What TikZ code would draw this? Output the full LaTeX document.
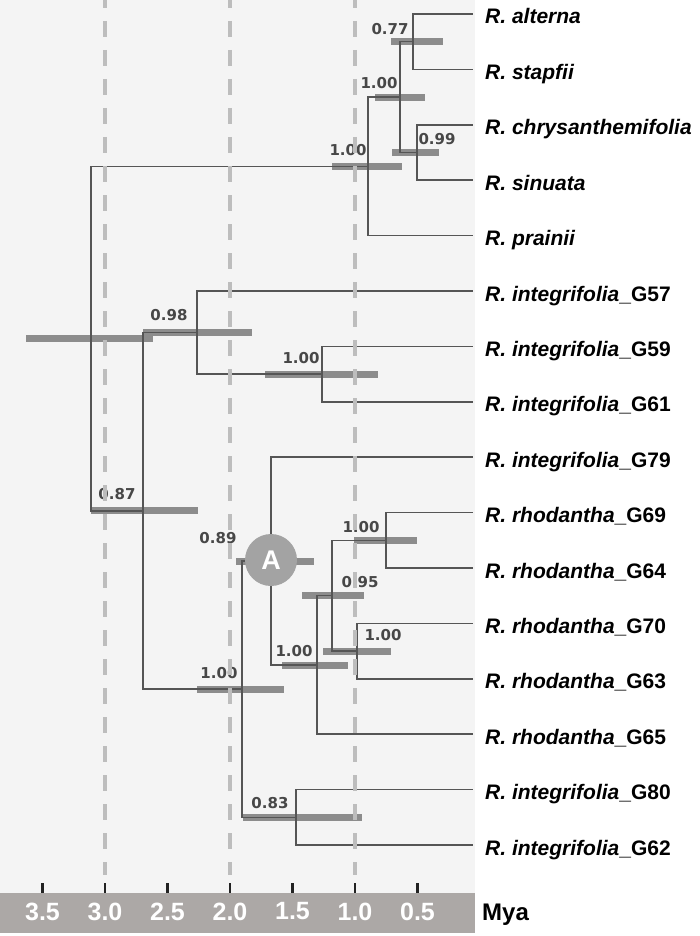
\documentclass[tikz,border=0pt]{standalone}
\usepackage{fontspec}
\setmainfont{Liberation Sans}
\newfontfamily\bsfont{DejaVu Sans}
\definecolor{panelcol}{HTML}{F4F4F4}
\definecolor{axiscol}{HTML}{ACA8A6}
\definecolor{treecol}{HTML}{555555}
\definecolor{barcol}{HTML}{8C8C8C}
\definecolor{bscol}{HTML}{474747}
\definecolor{gridcol}{HTML}{BDBDBD}
\definecolor{circcol}{HTML}{A3A3A3}
\definecolor{tickcol}{HTML}{222222}
\newcommand\taxon[2]{\textit{#1}#2}
\begin{document}
\begin{tikzpicture}[x=1pt,y=-1pt,
  treeline/.style={draw=treecol,line width=1.5pt},
  hpd/.style={rectangle,fill=barcol,draw=none,minimum height=7pt,inner sep=0pt,outer sep=0pt},
  bs/.style={font=\bsfont\bfseries\fontsize{15}{17}\selectfont,text=bscol,inner sep=0pt},
  tiplab/.style={anchor=base west,inner sep=0pt,font=\bfseries\fontsize{21}{24}\selectfont},
  gridline/.style={draw=gridcol,line width=3.5pt,dash pattern=on 16pt off 13pt,dash phase=8pt},
  tickmark/.style={draw=tickcol,line width=2.5pt},
  ticklab/.style={text=white,inner sep=0pt,font=\bfseries\fontsize{25}{28}\selectfont}]
\useasboundingbox (0,0) rectangle (700,936);
\fill[panelcol] (0,0) rectangle (475,893);
\fill[axiscol] (0,893) rectangle (475,933);

% tips
\coordinate (t0) at (473,14);
\coordinate (t1) at (473,69.4);
\coordinate (t2) at (473,124.8);
\coordinate (t3) at (473,180.2);
\coordinate (t4) at (473,235.6);
\coordinate (t5) at (473,291);
\coordinate (t6) at (473,346.4);
\coordinate (t7) at (473,401.8);
\coordinate (t8) at (473,457.2);
\coordinate (t9) at (473,512.6);
\coordinate (t10) at (473,568);
\coordinate (t11) at (473,623.4);
\coordinate (t12) at (473,678.8);
\coordinate (t13) at (473,734.2);
\coordinate (t14) at (473,789.6);
\coordinate (t15) at (473,845);

% internal nodes
\coordinate (n1) at (413,41.7);
\coordinate (n2) at (417,152.5);
\coordinate (n3) at (400,97.1);
\coordinate (n4) at (368,166.4);
\coordinate (n5) at (322,374.1);
\coordinate (n6) at (197,332.6);
\coordinate (n7) at (386,540.3);
\coordinate (n8) at (357,651.1);
\coordinate (n9) at (332,595.7);
\coordinate (n10) at (317,665);
\coordinate (n11) at (271,561);
\coordinate (n12) at (296,817.3);
\coordinate (n13) at (242,689);
\coordinate (n14) at (143,510.8);
\coordinate (root) at (91,338.6);

% HPD bars
\node[hpd,minimum width=52pt] (b1) at (417,41.7) {};
\node[hpd,minimum width=47pt] (b2) at (415.5,152.5) {};
\node[hpd,minimum width=50pt] (b3) at (400,97.1) {};
\node[hpd,minimum width=70pt] (b4) at (367,166.4) {};
\node[hpd,minimum width=113pt] (b5) at (321.5,374.1) {};
\node[hpd,minimum width=109pt] (b6) at (197.5,332.6) {};
\node[hpd,minimum width=63pt] (b7) at (385.5,540.3) {};
\node[hpd,minimum width=68pt] (b8) at (357,651.1) {};
\node[hpd,minimum width=62pt] (b9) at (333,595.7) {};
\node[hpd,minimum width=66pt] (b10) at (315,665) {};
\node[hpd,minimum width=78pt] (b11) at (275,561) {};
\node[hpd,minimum width=119pt] (b12) at (302.5,817.3) {};
\node[hpd,minimum width=87pt] (b13) at (240.5,689) {};
\node[hpd,minimum width=107pt] (b14) at (144.5,510.8) {};
\node[hpd,minimum width=127pt] (broot) at (89.5,338.6) {};

% tree
\draw[treeline] (n1) |- (t0);
\draw[treeline] (n1) |- (t1);
\draw[treeline] (n2) |- (t2);
\draw[treeline] (n2) |- (t3);
\draw[treeline] (n3) |- (n1);
\draw[treeline] (n3) |- (n2);
\draw[treeline] (n4) |- (n3);
\draw[treeline] (n4) |- (t4);
\draw[treeline] (root) |- (n4);
\draw[treeline] (root) |- (n14);
\draw[treeline] (n14) |- (n6);
\draw[treeline] (n14) |- (n13);
\draw[treeline] (n6) |- (t5);
\draw[treeline] (n6) |- (n5);
\draw[treeline] (n5) |- (t6);
\draw[treeline] (n5) |- (t7);
\draw[treeline] (n13) |- (n11);
\draw[treeline] (n13) |- (n12);
\draw[treeline] (n11) |- (t8);
\draw[treeline] (n11) |- (n10);
\draw[treeline] (n10) |- (n9);
\draw[treeline] (n10) |- (t13);
\draw[treeline] (n9) |- (n7);
\draw[treeline] (n9) |- (n8);
\draw[treeline] (n7) |- (t9);
\draw[treeline] (n7) |- (t10);
\draw[treeline] (n8) |- (t11);
\draw[treeline] (n8) |- (t12);
\draw[treeline] (n12) |- (t14);
\draw[treeline] (n12) |- (t15);

% support values
\node[bs] (s1) at (390,29) {0.77};
\node[bs] (s2) at (437,139) {0.99};
\node[bs] (s3) at (379,83) {1.00};
\node[bs] (s4) at (348,150) {1.00};
\node[bs] (s5) at (169,315) {0.98};
\node[bs] (s6) at (301,358) {1.00};
\node[bs] (s7) at (117,494) {0.87};
\node[bs] (s8) at (218,538) {0.89};
\node[bs] (s9) at (361,527) {1.00};
\node[bs] (s10) at (360,582) {0.95};
\node[bs] (s11) at (383,635) {1.00};
\node[bs] (s12) at (294,651) {1.00};
\node[bs] (s13) at (219,673) {1.00};
\node[bs] (s14) at (270,803) {0.83};

% circle A
\node[circle,fill=circcol,minimum size=52pt,inner sep=0pt,text=white,font=\bfseries\fontsize{27}{30}\selectfont] (A) at (271,560) {A};

% dashed time lines
\coordinate (g1a) at (105,0);   \coordinate (g1b) at (105,875);
\coordinate (g2a) at (230,0);   \coordinate (g2b) at (230,875);
\coordinate (g3a) at (355,0);   \coordinate (g3b) at (355,875);
\draw[gridline] (g1a) -- (g1b);
\draw[gridline] (g2a) -- (g2b);
\draw[gridline] (g3a) -- (g3b);

% tip labels
\node[tiplab] (L0) at (485,24) {\taxon{R. alterna}{}};
\node[tiplab] (L1) at (485,79.4) {\taxon{R. stapfii}{}};
\node[tiplab] (L2) at (485,134.8) {\taxon{R. chrysanthemifolia}{}};
\node[tiplab] (L3) at (485,190.2) {\taxon{R. sinuata}{}};
\node[tiplab] (L4) at (485,245.6) {\taxon{R. prainii}{}};
\node[tiplab] (L5) at (485,301) {\taxon{R. integrifolia}{\_G57}};
\node[tiplab] (L6) at (485,356.4) {\taxon{R. integrifolia}{\_G59}};
\node[tiplab] (L7) at (485,411.8) {\taxon{R. integrifolia}{\_G61}};
\node[tiplab] (L8) at (485,467.2) {\taxon{R. integrifolia}{\_G79}};
\node[tiplab] (L9) at (485,522.6) {\taxon{R. rhodantha}{\_G69}};
\node[tiplab] (L10) at (485,578) {\taxon{R. rhodantha}{\_G64}};
\node[tiplab] (L11) at (485,633.4) {\taxon{R. rhodantha}{\_G70}};
\node[tiplab] (L12) at (485,688.8) {\taxon{R. rhodantha}{\_G63}};
\node[tiplab] (L13) at (485,744.2) {\taxon{R. rhodantha}{\_G65}};
\node[tiplab] (L14) at (485,799.6) {\taxon{R. integrifolia}{\_G80}};
\node[tiplab] (L15) at (485,855) {\taxon{R. integrifolia}{\_G62}};

% axis
\foreach \xx/\lab in {42.5/3.5,105/3.0,167.5/2.5,230/2.0,292.5/1.5,355/1.0,417.5/0.5}{
  \draw[tickmark] (\xx,883) -- (\xx,893);
  \node[ticklab] at (\xx,911.5) {\lab};
}
\node[anchor=base west,inner sep=0pt,font=\bfseries\fontsize{24}{28}\selectfont] (mya) at (482,920) {Mya};
\end{tikzpicture}
\end{document}
